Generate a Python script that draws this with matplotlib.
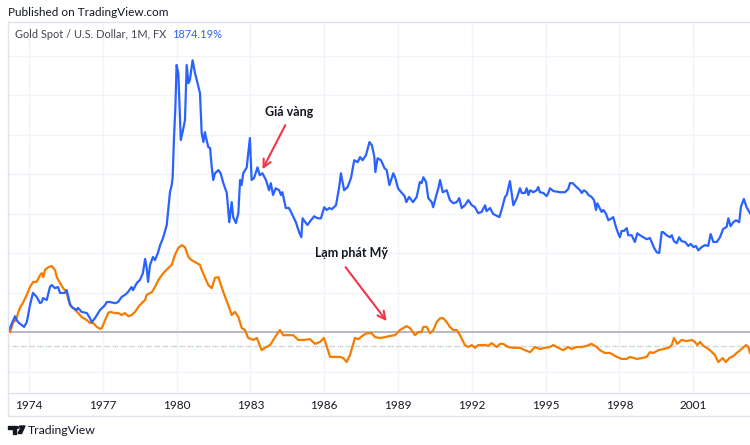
import matplotlib
matplotlib.use("Agg")
import matplotlib.pyplot as plt
from matplotlib.patches import Polygon, Circle
from matplotlib.lines import Line2D

# --------- data (decimal year, % change from start) ---------
gold_t = [1973.16, 1973.43, 1973.50, 1973.59, 1973.80, 1973.91, 1974.04, 1974.16, 1974.31, 1974.45,
          1974.52, 1974.57, 1974.72, 1974.85, 1974.92, 1975.06, 1975.18, 1975.26, 1975.46, 1975.53,
          1975.60, 1975.67, 1975.79, 1975.94, 1975.99, 1976.14, 1976.35, 1976.48, 1976.55, 1976.68,
          1976.89, 1977.09, 1977.16, 1977.29, 1977.50, 1977.62, 1977.77, 1977.90, 1978.02, 1978.17,
          1978.23, 1978.38, 1978.51, 1978.63, 1978.72, 1978.78, 1978.84, 1978.92, 1979.04, 1979.12,
          1979.24, 1979.33, 1979.45, 1979.60, 1979.66, 1979.73, 1979.80, 1979.84, 1979.89, 1979.95,
          1980.00, 1980.07, 1980.17, 1980.26, 1980.34, 1980.41, 1980.48, 1980.54, 1980.65, 1980.75,
          1980.82, 1980.95, 1981.02, 1981.09, 1981.15, 1981.22, 1981.29, 1981.36, 1981.43, 1981.49,
          1981.56, 1981.70, 1981.79, 1981.90, 1982.04, 1982.14, 1982.24, 1982.30, 1982.41, 1982.51,
          1982.58, 1982.64, 1982.71, 1982.85, 1982.98, 1983.05, 1983.15, 1983.29, 1983.38, 1983.49,
          1983.63, 1983.76, 1983.83, 1983.92, 1984.03, 1984.17, 1984.24, 1984.30, 1984.44, 1984.57,
          1984.71, 1984.85, 1984.91, 1984.98, 1985.07, 1985.12, 1985.23, 1985.32, 1985.46, 1985.59,
          1985.73, 1985.87, 1986.00, 1986.10, 1986.21, 1986.31, 1986.48, 1986.61, 1986.68, 1986.81,
          1986.95, 1987.09, 1987.22, 1987.36, 1987.46, 1987.56, 1987.70, 1987.84, 1987.94, 1988.04,
          1988.08, 1988.17, 1988.31, 1988.45, 1988.54, 1988.65, 1988.72, 1988.81, 1988.89, 1989.00,
          1989.13, 1989.27, 1989.34, 1989.45, 1989.61, 1989.76, 1989.89, 1989.96, 1990.03, 1990.14,
          1990.23, 1990.37, 1990.43, 1990.54, 1990.64, 1990.71, 1990.82, 1990.98, 1991.11, 1991.25,
          1991.39, 1991.49, 1991.59, 1991.72, 1991.86, 1992.00, 1992.13, 1992.26, 1992.40, 1992.54,
          1992.60, 1992.74, 1992.87, 1993.12, 1993.21, 1993.35, 1993.42, 1993.55, 1993.62, 1993.69,
          1993.83, 1993.96, 1994.03, 1994.16, 1994.23, 1994.30, 1994.37, 1994.50, 1994.64, 1994.70,
          1994.77, 1994.91, 1995.04, 1995.11, 1995.18, 1995.31, 1995.59, 1995.79, 1995.92, 1995.99,
          1996.10, 1996.26, 1996.40, 1996.47, 1996.56, 1996.67, 1996.74, 1996.87, 1996.97, 1997.05,
          1997.10, 1997.18, 1997.28, 1997.35, 1997.46, 1997.55, 1997.69, 1997.75, 1997.86, 1997.95,
          1998.02, 1998.09, 1998.19, 1998.30, 1998.36, 1998.50, 1998.63, 1998.73, 1998.84, 1998.97,
          1999.11, 1999.24, 1999.31, 1999.41, 1999.52, 1999.62, 1999.72, 1999.78, 1999.92, 2000.06,
          2000.13, 2000.22, 2000.33, 2000.43, 2000.53, 2000.67, 2000.80, 2000.90, 2001.01, 2001.11,
          2001.21, 2001.34, 2001.48, 2001.61, 2001.71, 2001.82, 2001.96, 2002.09, 2002.22, 2002.36,
          2002.43, 2002.52, 2002.63, 2002.74, 2002.87, 2002.94, 2003.06, 2003.17, 2003.31]
gold_v = [1, 40, 30, 23, 13, 25, 68, 99, 89, 73,
          76, 86, 81, 114, 119, 111, 114, 99, 99, 106,
          89, 68, 61, 56, 61, 51, 48, 35, 25, 35,
          56, 68, 76, 76, 73, 76, 89, 94, 101, 114,
          106, 124, 132, 149, 185, 164, 127, 170, 190, 182,
          200, 220, 238, 271, 309, 354, 372, 392, 486, 569,
          676, 655, 486, 511, 536, 676, 630, 638, 688, 655,
          638, 605, 503, 481, 506, 486, 468, 466, 417, 385,
          402, 410, 402, 377, 352, 278, 329, 291, 276, 301,
          385, 372, 402, 417, 491, 385, 390, 417, 397, 402,
          385, 359, 377, 347, 364, 359, 347, 354, 314, 314,
          296, 278, 266, 253, 240, 288, 278, 271, 283, 293,
          288, 288, 316, 309, 314, 311, 321, 367, 402, 359,
          367, 390, 435, 430, 443, 435, 448, 481, 473, 443,
          405, 440, 435, 415, 410, 372, 385, 402, 390, 364,
          354, 344, 329, 342, 329, 342, 380, 377, 392, 380,
          339, 329, 316, 342, 364, 385, 354, 359, 334, 326,
          329, 339, 314, 321, 334, 321, 316, 301, 304, 321,
          306, 314, 299, 291, 309, 342, 347, 382, 352, 321,
          339, 364, 352, 352, 364, 347, 359, 354, 359, 367,
          354, 352, 344, 352, 364, 357, 354, 354, 362, 377,
          377, 367, 359, 352, 359, 354, 347, 342, 334, 309,
          326, 316, 304, 309, 299, 283, 288, 291, 266, 250,
          240, 256, 256, 263, 245, 245, 228, 250, 245, 240,
          235, 238, 228, 213, 202, 200, 253, 253, 245, 240,
          245, 230, 225, 240, 230, 228, 218, 223, 215, 218,
          207, 215, 220, 218, 248, 228, 228, 240, 261, 266,
          288, 268, 278, 283, 278, 316, 337, 316, 301]

infl_t = [1973.23, 1973.36, 1973.47, 1973.57, 1973.63, 1973.77, 1973.91, 1974.04, 1974.17, 1974.31,
          1974.45, 1974.52, 1974.58, 1974.65, 1974.78, 1974.92, 1975.06, 1975.13, 1975.26, 1975.39,
          1975.53, 1975.60, 1975.74, 1975.87, 1976.00, 1976.14, 1976.35, 1976.48, 1976.61, 1976.75,
          1976.89, 1976.96, 1977.09, 1977.22, 1977.29, 1977.50, 1977.63, 1977.77, 1977.90, 1978.04,
          1978.17, 1978.31, 1978.44, 1978.58, 1978.72, 1978.78, 1978.99, 1979.12, 1979.26, 1979.46,
          1979.66, 1979.80, 1979.93, 1980.07, 1980.21, 1980.34, 1980.48, 1980.61, 1980.75, 1980.95,
          1981.02, 1981.15, 1981.29, 1981.43, 1981.56, 1981.70, 1981.83, 1981.97, 1982.10, 1982.24,
          1982.37, 1982.51, 1982.65, 1982.78, 1982.91, 1983.12, 1983.26, 1983.46, 1983.59, 1983.80,
          1984.00, 1984.20, 1984.34, 1984.54, 1984.74, 1984.95, 1985.15, 1985.42, 1985.63, 1985.83,
          1985.99, 1986.24, 1986.44, 1986.64, 1986.78, 1986.91, 1987.05, 1987.25, 1987.39, 1987.59,
          1987.73, 1987.93, 1988.07, 1988.27, 1988.47, 1988.67, 1988.88, 1989.08, 1989.35, 1989.49,
          1989.69, 1989.83, 1989.96, 1990.03, 1990.17, 1990.30, 1990.44, 1990.57, 1990.71, 1990.84,
          1990.98, 1991.11, 1991.25, 1991.39, 1991.52, 1991.72, 1991.86, 1992.00, 1992.13, 1992.26,
          1992.40, 1992.54, 1992.67, 1992.81, 1993.01, 1993.15, 1993.28, 1993.48, 1993.69, 1993.96,
          1994.16, 1994.37, 1994.57, 1994.77, 1994.98, 1995.18, 1995.31, 1995.52, 1995.72, 1995.92,
          1996.06, 1996.26, 1996.47, 1996.67, 1996.87, 1997.08, 1997.21, 1997.41, 1997.62, 1997.89,
          1998.09, 1998.30, 1998.43, 1998.70, 1998.91, 1999.11, 1999.24, 1999.38, 1999.59, 1999.79,
          2000.00, 2000.13, 2000.22, 2000.35, 2000.53, 2000.74, 2000.94, 2001.07, 2001.17, 2001.28,
          2001.41, 2001.55, 2001.68, 2001.88, 2002.02, 2002.20, 2002.33, 2002.47, 2002.63, 2002.77,
          2002.97, 2003.15, 2003.24, 2003.31]
infl_v = [0, 25, 30, 51, 61, 76, 94, 114, 127, 127,
          144, 149, 139, 157, 164, 167, 157, 139, 124, 111,
          101, 81, 63, 56, 48, 38, 30, 23, 23, 13,
          8, 10, 30, 48, 51, 48, 48, 43, 48, 40,
          43, 51, 63, 73, 81, 94, 101, 114, 132, 149,
          162, 170, 195, 213, 220, 215, 190, 182, 177, 170,
          157, 139, 119, 111, 137, 139, 114, 89, 68, 43,
          51, 38, 10, 5, -15, -20, -15, -46, -40, -33,
          -13, 5, -8, -8, -8, -20, -20, -18, -30, -25,
          -15, -63, -63, -63, -66, -76, -58, -15, -18, -8,
          -3, -3, -13, -15, -13, -10, -8, 5, 15, 10,
          -8, 0, 0, 13, 13, -3, 5, 25, 35, 35,
          25, 13, 5, 5, -8, -33, -38, -33, -40, -33,
          -33, -33, -35, -28, -38, -30, -30, -38, -40, -40,
          -46, -51, -38, -43, -40, -38, -33, -40, -46, -38,
          -43, -38, -38, -35, -30, -38, -46, -53, -53, -63,
          -68, -68, -63, -68, -66, -63, -51, -53, -46, -43,
          -40, -33, -15, -30, -20, -23, -20, -25, -33, -25,
          -35, -40, -46, -58, -76, -66, -76, -66, -61, -53,
          -43, -33, -38, -53]

year_ticks = [1974, 1977, 1980, 1983, 1986, 1989, 1992, 1995, 1998, 2001]

# --------- figure ---------
plt.rcParams['font.family'] = ['Lato', 'DejaVu Sans']
fig = plt.figure(figsize=(7.5, 4.45), dpi=100)
W, H = 750.0, 445.0
ax = fig.add_axes([8 / W, 1 - 393 / H, 1 - 8 / W, (393 - 22) / H])

ax.plot(infl_t, infl_v, color="#F57C00", lw=1.6, zorder=3)
ax.plot(gold_t, gold_v, color="#2962FF", lw=1.6, zorder=4)

ax.axhline(0, color="#B2B5BE", lw=1.3, zorder=2)
ax.axhline(-35, color="#9ED8D2", lw=1, linestyle=(0, (1, 2)), zorder=2)
ax.axhline(-35, color="#F7A8B4", lw=1, linestyle=(1.5, (1, 5)), zorder=2)

ax.set_xlim(1973.146, 2003.31)
ax.set_ylim(-154.4, 785)
ax.set_xticks(year_ticks)
ax.set_xticklabels([str(y) for y in year_ticks], fontsize=8.5, color="#131722")
ax.set_yticks(range(-100, 800, 100))
ax.set_yticklabels([])
ax.tick_params(length=0, pad=5)
ax.grid(True, color="#F0F3FA", lw=1, zorder=0)
for s in ax.spines.values():
    s.set_visible(False)

# annotations
ax.annotate("", xy=(1983.44, (332 - 171.7) * 2.532), xytext=(1984.47, (332 - 122.7) * 2.532),
            arrowprops=dict(arrowstyle="->", color="#F23645", lw=1.5, mutation_scale=14))
ax.text(1984.59, (332 - 112) * 2.532, "Giá vàng", fontsize=9, fontweight="bold",
        color="#131722", ha="center", va="center")
ax.annotate("", xy=(1988.61, (332 - 323.3) * 2.532), xytext=(1986.8, (332 - 265) * 2.532),
            arrowprops=dict(arrowstyle="->", color="#F23645", lw=1.5, mutation_scale=14))
ax.text(1987.13, (332 - 253) * 2.532, "Lạm phát Mỹ", fontsize=9, fontweight="bold",
        color="#131722", ha="center", va="center")

# pane borders
border = "#E0E3EB"
fig.add_artist(Line2D([8 / W, 1], [1 - 22 / H] * 2, color=border, lw=1))
fig.add_artist(Line2D([8 / W, 1], [1 - 393 / H] * 2, color=border, lw=1))
fig.add_artist(Line2D([8 / W, 1], [1 - 416 / H] * 2, color=border, lw=1))
fig.add_artist(Line2D([8 / W] * 2, [1 - 22 / H, 1 - 416 / H], color=border, lw=1))

# header texts
fig.text(8 / W, 1 - 13 / H, "Published on TradingView.com", fontsize=8.5, color="#131722", va="center")
t1 = fig.text(15 / W, 1 - 34 / H, "Gold Spot / U.S. Dollar, 1M, FX", fontsize=7.9,
              color="#434651", va="center")
ax.annotate("1874.19%", xy=(1, 0.5), xycoords=t1, xytext=(4, 0), textcoords="offset points",
            fontsize=7.9, color="#2962FF", va="center", ha="left", annotation_clip=False)

# footer logo
def P(x, y):
    return (x / W, 1 - y / H)
fig.add_artist(Polygon([P(8, 426), P(15.5, 426), P(15.5, 433.5), P(12.5, 433.5), P(12.5, 428.5), P(8, 428.5)],
                       closed=True, color="#131722", transform=fig.transFigure))
fig.add_artist(Circle(P(17.5, 427.5), 1.3 / W, color="#131722", transform=fig.transFigure))
fig.add_artist(Polygon([P(19.5, 426), P(25, 426), P(21.5, 433.5), P(18, 433.5), P(20.5, 428.5)],
                       closed=True, color="#131722", transform=fig.transFigure))
fig.text(28 / W, 1 - 430 / H, "TradingView", fontsize=8.8, color="#131722", va="center")

fig.savefig("out.png", dpi=100, facecolor="white")
